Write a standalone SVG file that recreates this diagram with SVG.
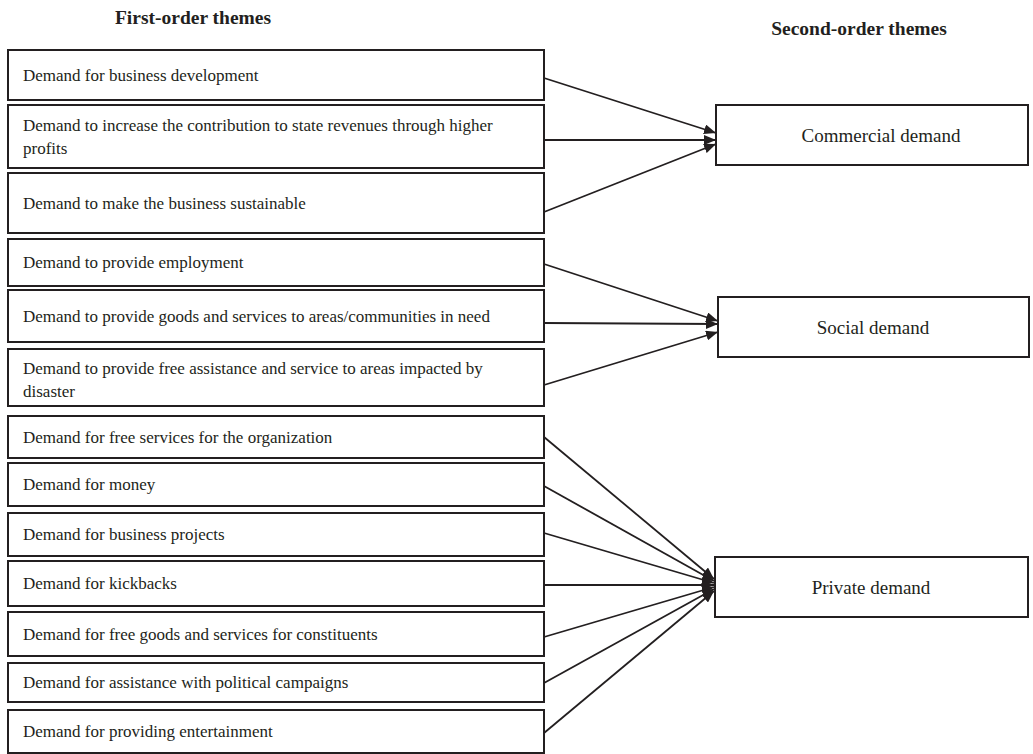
<svg xmlns="http://www.w3.org/2000/svg" width="1033" height="754" viewBox="0 0 1033 754">
<style>
.box{fill:#fff;stroke:#231f20;stroke-width:2}
.t{font-family:"Liberation Serif","Times New Roman",serif;font-size:17px;fill:#231f20}
.r{font-family:"Liberation Serif","Times New Roman",serif;font-size:19px;fill:#231f20;text-anchor:middle}
.h{font-family:"Liberation Serif","Times New Roman",serif;font-size:19.5px;font-weight:bold;fill:#231f20;text-anchor:middle}
.ln{stroke:#231f20;stroke-width:1.8;fill:none;marker-end:url(#ah)}
</style>
<defs>
<marker id="ah" markerUnits="userSpaceOnUse" markerWidth="12" markerHeight="10" refX="12" refY="5" orient="auto">
<path d="M0,0 L12,5 L0,10 z" fill="#231f20"/>
</marker>
</defs>
<rect width="1033" height="754" fill="#fff"/>
<text class="h" x="193" y="24">First-order themes</text>
<text class="h" x="859" y="35">Second-order themes</text>
<g id="connectors">
<line class="ln" x1="544" y1="78" x2="716" y2="133"/>
<line class="ln" x1="544" y1="140" x2="716" y2="140"/>
<line class="ln" x1="544" y1="212" x2="716" y2="144"/>
<line class="ln" x1="544" y1="264" x2="718" y2="321"/>
<line class="ln" x1="544" y1="323" x2="718" y2="324"/>
<line class="ln" x1="544" y1="385" x2="718" y2="332"/>
<line class="ln" x1="544" y1="437" x2="714" y2="579"/>
<line class="ln" x1="544" y1="486" x2="714" y2="581"/>
<line class="ln" x1="544" y1="533" x2="714" y2="583"/>
<line class="ln" x1="544" y1="585" x2="714" y2="585"/>
<line class="ln" x1="544" y1="637" x2="714" y2="587"/>
<line class="ln" x1="544" y1="683" x2="714" y2="589"/>
<line class="ln" x1="544" y1="733" x2="714" y2="591"/>
</g>
<g id="f1"><rect class="box" x="8" y="50" width="536" height="50"/><text class="t" x="23" y="81">Demand for business development</text></g>
<g id="f2"><rect class="box" x="8" y="105" width="536" height="63"/><text class="t" x="23" y="131">Demand to increase the contribution to state revenues through higher</text><text class="t" x="23" y="154">profits</text></g>
<g id="f3"><rect class="box" x="8" y="173" width="536" height="60"/><text class="t" x="23" y="209">Demand to make the business sustainable</text></g>
<g id="f4"><rect class="box" x="8" y="239" width="536" height="47"/><text class="t" x="23" y="268">Demand to provide employment</text></g>
<g id="f5"><rect class="box" x="8" y="290" width="536" height="52"/><text class="t" x="23" y="322">Demand to provide goods and services to areas/communities in need</text></g>
<g id="f6"><rect class="box" x="8" y="349" width="536" height="57"/><text class="t" x="23" y="374">Demand to provide free assistance and service to areas impacted by</text><text class="t" x="23" y="397">disaster</text></g>
<g id="f7"><rect class="box" x="8" y="416" width="536" height="42"/><text class="t" x="23" y="443">Demand for free services for the organization</text></g>
<g id="f8"><rect class="box" x="8" y="463" width="536" height="43"/><text class="t" x="23" y="490">Demand for money</text></g>
<g id="f9"><rect class="box" x="8" y="513" width="536" height="43"/><text class="t" x="23" y="540">Demand for business projects</text></g>
<g id="f10"><rect class="box" x="8" y="561" width="536" height="45"/><text class="t" x="23" y="589">Demand for kickbacks</text></g>
<g id="f11"><rect class="box" x="8" y="612" width="536" height="44"/><text class="t" x="23" y="640">Demand for free goods and services for constituents</text></g>
<g id="f12"><rect class="box" x="8" y="663" width="536" height="39"/><text class="t" x="23" y="688">Demand for assistance with political campaigns</text></g>
<g id="f13"><rect class="box" x="8" y="710" width="536" height="43"/><text class="t" x="23" y="737">Demand for providing entertainment</text></g>
<g id="s1"><rect class="box" x="716" y="105" width="312" height="60"/><text class="r" x="881" y="142">Commercial demand</text></g>
<g id="s2"><rect class="box" x="718" y="297" width="311" height="60"/><text class="r" x="873" y="334">Social demand</text></g>
<g id="s3"><rect class="box" x="715" y="557" width="313" height="60"/><text class="r" x="871" y="594">Private demand</text></g>
</svg>
